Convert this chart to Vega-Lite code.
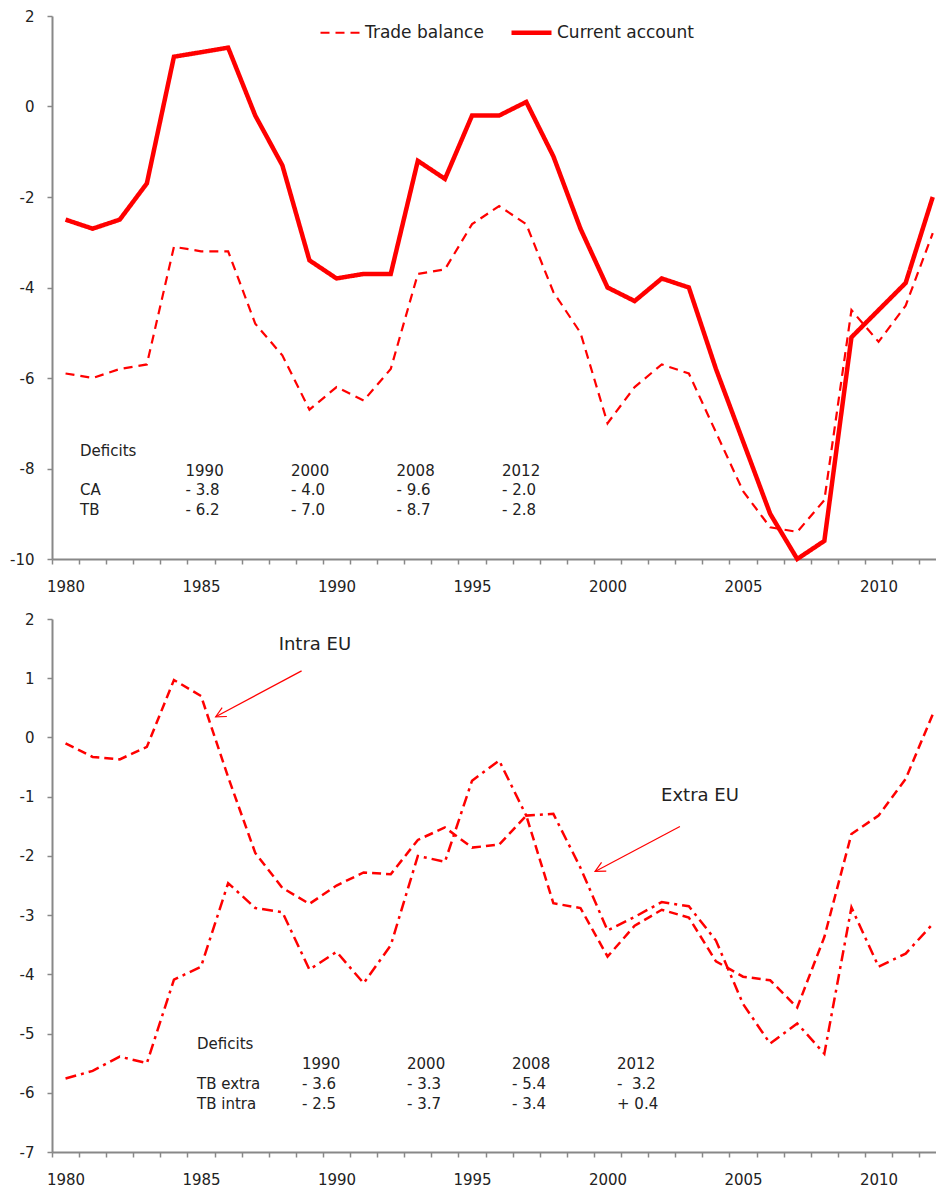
{
  "$schema": "https://vega.github.io/schema/vega-lite/v6.json",
  "padding": {"left": 9, "top": 9, "right": 0, "bottom": 0},
  "spacing": 18,
  "resolve": {"scale": {"strokeDash": "independent", "strokeWidth": "independent"}, "legend": {"strokeDash": "independent", "strokeWidth": "independent"}},
  "config": {
    "font": "DejaVu Sans",
    "view": {"stroke": null},
    "axis": {"labelFont": "DejaVu Sans", "labelFontSize": 15, "labelColor": "#222222", "domainColor": "#888888", "tickColor": "#888888", "domainWidth": 2, "tickWidth": 1.5, "grid": false, "title": null}
  },
  "datasets": {
    "top": [
      {"year": 1980, "series": "Current account", "value": -2.5},
      {"year": 1981, "series": "Current account", "value": -2.7},
      {"year": 1982, "series": "Current account", "value": -2.5},
      {"year": 1983, "series": "Current account", "value": -1.7},
      {"year": 1984, "series": "Current account", "value": 1.1},
      {"year": 1985, "series": "Current account", "value": 1.2},
      {"year": 1986, "series": "Current account", "value": 1.3},
      {"year": 1987, "series": "Current account", "value": -0.2},
      {"year": 1988, "series": "Current account", "value": -1.3},
      {"year": 1989, "series": "Current account", "value": -3.4},
      {"year": 1990, "series": "Current account", "value": -3.8},
      {"year": 1991, "series": "Current account", "value": -3.7},
      {"year": 1992, "series": "Current account", "value": -3.7},
      {"year": 1993, "series": "Current account", "value": -1.2},
      {"year": 1994, "series": "Current account", "value": -1.6},
      {"year": 1995, "series": "Current account", "value": -0.2},
      {"year": 1996, "series": "Current account", "value": -0.2},
      {"year": 1997, "series": "Current account", "value": 0.1},
      {"year": 1998, "series": "Current account", "value": -1.1},
      {"year": 1999, "series": "Current account", "value": -2.7},
      {"year": 2000, "series": "Current account", "value": -4.0},
      {"year": 2001, "series": "Current account", "value": -4.3},
      {"year": 2002, "series": "Current account", "value": -3.8},
      {"year": 2003, "series": "Current account", "value": -4.0},
      {"year": 2004, "series": "Current account", "value": -5.8},
      {"year": 2005, "series": "Current account", "value": -7.4},
      {"year": 2006, "series": "Current account", "value": -9.0},
      {"year": 2007, "series": "Current account", "value": -10.0},
      {"year": 2008, "series": "Current account", "value": -9.6},
      {"year": 2009, "series": "Current account", "value": -5.1},
      {"year": 2010, "series": "Current account", "value": -4.5},
      {"year": 2011, "series": "Current account", "value": -3.9},
      {"year": 2012, "series": "Current account", "value": -2.0},
      {"year": 1980, "series": "Trade balance", "value": -5.9},
      {"year": 1981, "series": "Trade balance", "value": -6.0},
      {"year": 1982, "series": "Trade balance", "value": -5.8},
      {"year": 1983, "series": "Trade balance", "value": -5.7},
      {"year": 1984, "series": "Trade balance", "value": -3.1},
      {"year": 1985, "series": "Trade balance", "value": -3.2},
      {"year": 1986, "series": "Trade balance", "value": -3.2},
      {"year": 1987, "series": "Trade balance", "value": -4.8},
      {"year": 1988, "series": "Trade balance", "value": -5.5},
      {"year": 1989, "series": "Trade balance", "value": -6.7},
      {"year": 1990, "series": "Trade balance", "value": -6.2},
      {"year": 1991, "series": "Trade balance", "value": -6.5},
      {"year": 1992, "series": "Trade balance", "value": -5.8},
      {"year": 1993, "series": "Trade balance", "value": -3.7},
      {"year": 1994, "series": "Trade balance", "value": -3.6},
      {"year": 1995, "series": "Trade balance", "value": -2.6},
      {"year": 1996, "series": "Trade balance", "value": -2.2},
      {"year": 1997, "series": "Trade balance", "value": -2.6},
      {"year": 1998, "series": "Trade balance", "value": -4.1},
      {"year": 1999, "series": "Trade balance", "value": -5.0},
      {"year": 2000, "series": "Trade balance", "value": -7.0},
      {"year": 2001, "series": "Trade balance", "value": -6.2},
      {"year": 2002, "series": "Trade balance", "value": -5.7},
      {"year": 2003, "series": "Trade balance", "value": -5.9},
      {"year": 2004, "series": "Trade balance", "value": -7.2},
      {"year": 2005, "series": "Trade balance", "value": -8.5},
      {"year": 2006, "series": "Trade balance", "value": -9.3},
      {"year": 2007, "series": "Trade balance", "value": -9.4},
      {"year": 2008, "series": "Trade balance", "value": -8.7},
      {"year": 2009, "series": "Trade balance", "value": -4.5},
      {"year": 2010, "series": "Trade balance", "value": -5.2},
      {"year": 2011, "series": "Trade balance", "value": -4.4},
      {"year": 2012, "series": "Trade balance", "value": -2.8}
    ],
    "bottom": [
      {"year": 1980, "series": "Intra EU", "value": -0.1},
      {"year": 1981, "series": "Intra EU", "value": -0.33},
      {"year": 1982, "series": "Intra EU", "value": -0.37},
      {"year": 1983, "series": "Intra EU", "value": -0.16},
      {"year": 1984, "series": "Intra EU", "value": 0.97},
      {"year": 1985, "series": "Intra EU", "value": 0.7},
      {"year": 1986, "series": "Intra EU", "value": -0.67},
      {"year": 1987, "series": "Intra EU", "value": -1.95},
      {"year": 1988, "series": "Intra EU", "value": -2.54},
      {"year": 1989, "series": "Intra EU", "value": -2.81},
      {"year": 1990, "series": "Intra EU", "value": -2.5},
      {"year": 1991, "series": "Intra EU", "value": -2.28},
      {"year": 1992, "series": "Intra EU", "value": -2.31},
      {"year": 1993, "series": "Intra EU", "value": -1.73},
      {"year": 1994, "series": "Intra EU", "value": -1.52},
      {"year": 1995, "series": "Intra EU", "value": -1.86},
      {"year": 1996, "series": "Intra EU", "value": -1.81},
      {"year": 1997, "series": "Intra EU", "value": -1.32},
      {"year": 1998, "series": "Intra EU", "value": -2.8},
      {"year": 1999, "series": "Intra EU", "value": -2.88},
      {"year": 2000, "series": "Intra EU", "value": -3.7},
      {"year": 2001, "series": "Intra EU", "value": -3.18},
      {"year": 2002, "series": "Intra EU", "value": -2.91},
      {"year": 2003, "series": "Intra EU", "value": -3.04},
      {"year": 2004, "series": "Intra EU", "value": -3.78},
      {"year": 2005, "series": "Intra EU", "value": -4.04},
      {"year": 2006, "series": "Intra EU", "value": -4.1},
      {"year": 2007, "series": "Intra EU", "value": -4.56},
      {"year": 2008, "series": "Intra EU", "value": -3.37},
      {"year": 2009, "series": "Intra EU", "value": -1.63},
      {"year": 2010, "series": "Intra EU", "value": -1.32},
      {"year": 2011, "series": "Intra EU", "value": -0.7},
      {"year": 2012, "series": "Intra EU", "value": 0.39},
      {"year": 1980, "series": "Extra EU", "value": -5.76},
      {"year": 1981, "series": "Extra EU", "value": -5.63},
      {"year": 1982, "series": "Extra EU", "value": -5.39},
      {"year": 1983, "series": "Extra EU", "value": -5.5},
      {"year": 1984, "series": "Extra EU", "value": -4.09},
      {"year": 1985, "series": "Extra EU", "value": -3.87},
      {"year": 1986, "series": "Extra EU", "value": -2.46},
      {"year": 1987, "series": "Extra EU", "value": -2.88},
      {"year": 1988, "series": "Extra EU", "value": -2.95},
      {"year": 1989, "series": "Extra EU", "value": -3.92},
      {"year": 1990, "series": "Extra EU", "value": -3.62},
      {"year": 1991, "series": "Extra EU", "value": -4.15},
      {"year": 1992, "series": "Extra EU", "value": -3.51},
      {"year": 1993, "series": "Extra EU", "value": -2.0},
      {"year": 1994, "series": "Extra EU", "value": -2.1},
      {"year": 1995, "series": "Extra EU", "value": -0.73},
      {"year": 1996, "series": "Extra EU", "value": -0.39},
      {"year": 1997, "series": "Extra EU", "value": -1.32},
      {"year": 1998, "series": "Extra EU", "value": -1.29},
      {"year": 1999, "series": "Extra EU", "value": -2.2},
      {"year": 2000, "series": "Extra EU", "value": -3.26},
      {"year": 2001, "series": "Extra EU", "value": -3.03},
      {"year": 2002, "series": "Extra EU", "value": -2.78},
      {"year": 2003, "series": "Extra EU", "value": -2.85},
      {"year": 2004, "series": "Extra EU", "value": -3.43},
      {"year": 2005, "series": "Extra EU", "value": -4.5},
      {"year": 2006, "series": "Extra EU", "value": -5.17},
      {"year": 2007, "series": "Extra EU", "value": -4.83},
      {"year": 2008, "series": "Extra EU", "value": -5.34},
      {"year": 2009, "series": "Extra EU", "value": -2.87},
      {"year": 2010, "series": "Extra EU", "value": -3.87},
      {"year": 2011, "series": "Extra EU", "value": -3.65},
      {"year": 2012, "series": "Extra EU", "value": -3.15}
    ],
    "tableTop": [
      {"col": 0, "row": 0, "text": "Deficits"},
      {"col": 1, "row": 1, "text": "1990"},
      {"col": 2, "row": 1, "text": "2000"},
      {"col": 3, "row": 1, "text": "2008"},
      {"col": 4, "row": 1, "text": "2012"},
      {"col": 0, "row": 2, "text": "CA"},
      {"col": 1, "row": 2, "text": "- 3.8"},
      {"col": 2, "row": 2, "text": "- 4.0"},
      {"col": 3, "row": 2, "text": "- 9.6"},
      {"col": 4, "row": 2, "text": "- 2.0"},
      {"col": 0, "row": 3, "text": "TB"},
      {"col": 1, "row": 3, "text": "- 6.2"},
      {"col": 2, "row": 3, "text": "- 7.0"},
      {"col": 3, "row": 3, "text": "- 8.7"},
      {"col": 4, "row": 3, "text": "- 2.8"}
    ],
    "tableBottom": [
      {"col": 0, "row": 0, "text": "Deficits"},
      {"col": 1, "row": 1, "text": "1990"},
      {"col": 2, "row": 1, "text": "2000"},
      {"col": 3, "row": 1, "text": "2008"},
      {"col": 4, "row": 1, "text": "2012"},
      {"col": 0, "row": 2, "text": "TB extra"},
      {"col": 1, "row": 2, "text": "- 3.6"},
      {"col": 2, "row": 2, "text": "- 3.3"},
      {"col": 3, "row": 2, "text": "- 5.4"},
      {"col": 4, "row": 2, "text": "-\u00a0\u00a03.2"},
      {"col": 0, "row": 3, "text": "TB intra"},
      {"col": 1, "row": 3, "text": "- 2.5"},
      {"col": 2, "row": 3, "text": "- 3.7"},
      {"col": 3, "row": 3, "text": "- 3.4"},
      {"col": 4, "row": 3, "text": "+ 0.4"}
    ],
    "arrows": [
      {"x1": 1988.71, "y1": 1.124, "x2": 1985.54, "y2": 0.349},
      {"x1": 2002.67, "y1": -1.505, "x2": 1999.54, "y2": -2.263}
    ],
    "notes": [
      {"label": "Intra EU", "year": 1989.2, "value": 1.567},
      {"label": "Extra EU", "year": 2003.41, "value": -0.994}
    ]
  },
  "vconcat": [
    {
      "width": 884,
      "height": 543,
      "layer": [
        {
          "layer": [
            {
              "data": {"name": "top"},
              "mark": {"type": "line", "color": "#ff0000"},
              "encoding": {
                "x": {"field": "year", "type": "quantitative", "scale": {"domain": [1979.5, 2012.12], "nice": false, "zero": false},
                  "axis": {"title": null, "orient": "bottom", "values": [1980, 1985, 1990, 1995, 2000, 2005, 2010], "format": "d", "ticks": false, "tickSize": 0, "labelPadding": 20, "labelFlush": false, "labelOverlap": false, "labelBound": false, "domain": true}},
                "y": {"field": "value", "type": "quantitative", "scale": {"domain": [-10, 2], "nice": false, "zero": false},
                  "axis": {"title": null, "values": [-10,-8,-6,-4,-2,0,2], "labelExpr": "'' + datum.value", "tickSize": 5, "labelPadding": 13}},
                "strokeDash": {"field": "series", "type": "nominal", "scale": {"domain": ["Trade balance", "Current account"], "range": [[9,6],[1,0]]},
                  "legend": {"title": null, "orient": "none", "legendX": 267, "legendY": -6, "direction": "horizontal", "symbolType": "stroke", "symbolSize": 1600, "symbolStrokeColor": "#ff0000", "labelFontSize": 17, "labelColor": "#222222", "labelOffset": 3, "columnPadding": 18, "padding": 0, "labelLimit": 300}},
                "strokeWidth": {"field": "series", "type": "nominal", "scale": {"type": "ordinal", "domain": ["Trade balance", "Current account"], "range": [2.2, 4.5]},
                  "legend": {"title": null, "orient": "none", "legendX": 267, "legendY": -6, "direction": "horizontal", "symbolType": "stroke", "symbolSize": 1600, "symbolStrokeColor": "#ff0000", "labelFontSize": 17, "labelColor": "#222222", "labelOffset": 3, "columnPadding": 18, "padding": 0, "labelLimit": 300}}
              }
            },
            {
              "mark": {"type": "rule", "color": "#000000", "strokeWidth": 1.2},
              "encoding": {
                "x": {"datum": 1980, "type": "quantitative", "axis": {"title": null, "orient": "bottom", "values": [1979.5,1980.5,1981.5,1982.5,1983.5,1984.5,1985.5,1986.5,1987.5,1988.5,1989.5,1990.5,1991.5,1992.5,1993.5,1994.5,1995.5,1996.5,1997.5,1998.5,1999.5,2000.5,2001.5,2002.5,2003.5,2004.5,2005.5,2006.5,2007.5,2008.5,2009.5,2010.5,2011.5], "labels": false, "tickSize": 5, "domain": false}},
                "x2": {"datum": 2012},
                "y": {"datum": 0}
              }
            }
          ],
          "resolve": {"axis": {"x": "independent"}}
        },
        {
          "data": {"name": "tableTop"},
          "mark": {"type": "text", "align": "left", "baseline": "middle", "fontSize": 15, "color": "#222222"},
          "encoding": {
            "x": {"field": "col", "type": "quantitative", "scale": {"domain": [0, 4], "range": [28, 450], "nice": false, "zero": false}, "axis": null},
            "y": {"field": "row", "type": "quantitative", "scale": {"domain": [0, 3], "range": [435, 494], "nice": false, "zero": false}, "axis": null},
            "text": {"field": "text"}
          }
        }
      ],
      "resolve": {"scale": {"x": "independent", "y": "independent"}}
    },
    {
      "width": 884,
      "height": 533,
      "layer": [
        {
          "layer": [
            {
              "data": {"name": "bottom"},
              "mark": {"type": "line", "color": "#ff0000", "strokeWidth": 2.5},
              "encoding": {
                "x": {"field": "year", "type": "quantitative", "scale": {"domain": [1979.5, 2012.12], "nice": false, "zero": false},
                  "axis": {"title": null, "orient": "bottom", "values": [1980, 1985, 1990, 1995, 2000, 2005, 2010], "format": "d", "ticks": false, "tickSize": 0, "labelPadding": 20, "labelFlush": false, "labelOverlap": false, "labelBound": false, "domain": true}},
                "y": {"field": "value", "type": "quantitative", "scale": {"domain": [-7, 2], "nice": false, "zero": false},
                  "axis": {"title": null, "values": [-7,-6,-5,-4,-3,-2,-1,0,1,2], "labelExpr": "'' + datum.value", "tickSize": 5, "labelPadding": 13}},
                "strokeDash": {"field": "series", "type": "nominal", "scale": {"domain": ["Intra EU", "Extra EU"], "range": [[9,5],[11,5,3,5]]}, "legend": null}
              }
            },
            {
              "mark": {"type": "rule", "color": "#000000", "strokeWidth": 1.2},
              "encoding": {
                "x": {"datum": 1980, "type": "quantitative", "axis": {"title": null, "orient": "bottom", "values": [1979.5,1980.5,1981.5,1982.5,1983.5,1984.5,1985.5,1986.5,1987.5,1988.5,1989.5,1990.5,1991.5,1992.5,1993.5,1994.5,1995.5,1996.5,1997.5,1998.5,1999.5,2000.5,2001.5,2002.5,2003.5,2004.5,2005.5,2006.5,2007.5,2008.5,2009.5,2010.5,2011.5], "labels": false, "tickSize": 5, "domain": false}},
                "x2": {"datum": 2012},
                "y": {"datum": 0}
              }
            },
            {
              "data": {"name": "arrows"},
              "mark": {"type": "rule", "color": "#ff0000", "strokeWidth": 1.2},
              "encoding": {
                "x": {"field": "x1", "type": "quantitative", "axis": null},
                "x2": {"field": "x2"},
                "y": {"field": "y1", "type": "quantitative"},
                "y2": {"field": "y2"}
              }
            },
            {
              "data": {"name": "arrows"},
              "mark": {"type": "point", "shape": "M-1,-0.5L0,0L-1,0.5", "angle": 152, "size": 400, "filled": false, "stroke": "#ff0000", "strokeWidth": 1.2, "opacity": 1},
              "encoding": {
                "x": {"field": "x2", "type": "quantitative", "axis": null},
                "y": {"field": "y2", "type": "quantitative"}
              }
            },
            {
              "data": {"name": "notes"},
              "mark": {"type": "text", "align": "center", "baseline": "middle", "fontSize": 18, "color": "#222222"},
              "encoding": {
                "x": {"field": "year", "type": "quantitative", "axis": null},
                "y": {"field": "value", "type": "quantitative"},
                "text": {"field": "label"}
              }
            }
          ],
          "resolve": {"axis": {"x": "independent"}}
        },
        {
          "data": {"name": "tableBottom"},
          "mark": {"type": "text", "align": "left", "baseline": "middle", "fontSize": 15, "color": "#222222"},
          "encoding": {
            "x": {"field": "col", "type": "quantitative", "scale": {"domain": [0, 4], "range": [145, 565], "nice": false, "zero": false}, "axis": null},
            "y": {"field": "row", "type": "quantitative", "scale": {"domain": [0, 3], "range": [425, 485], "nice": false, "zero": false}, "axis": null},
            "text": {"field": "text"}
          }
        }
      ],
      "resolve": {"scale": {"x": "independent", "y": "independent"}}
    }
  ]
}
